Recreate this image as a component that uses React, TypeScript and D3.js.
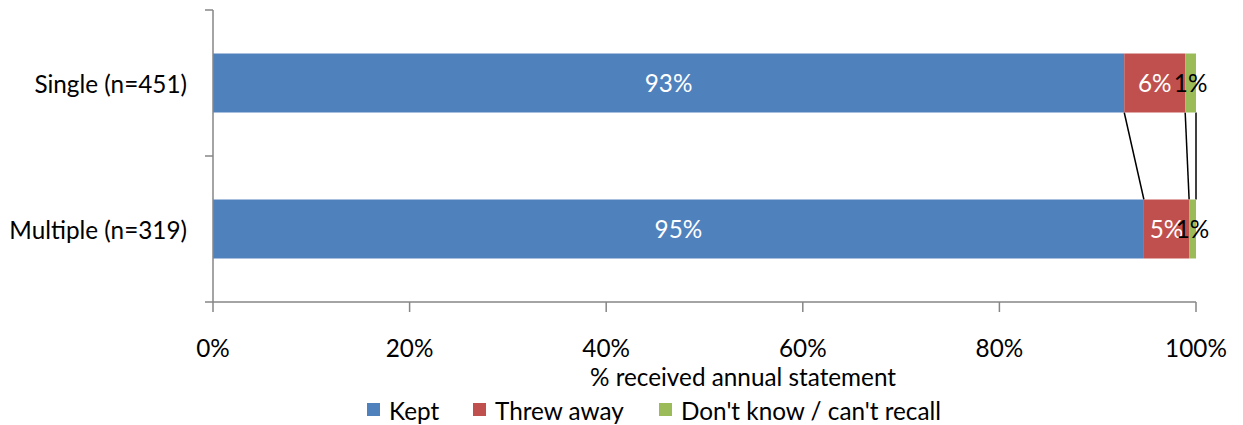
import React, { useEffect, useRef } from 'react';
import * as d3 from 'd3';

const categories = ['Single (n=451)', 'Multiple (n=319)'];
const seriesNames = ['Kept', 'Threw away', "Don't know / can't recall"];
const kept = [92.7, 94.7];
const threwAway = [6.2, 4.6];
const dontKnow = [1.1, 0.7];
const xTicks = [0, 20, 40, 60, 80, 100];
const axisTitle = '% received annual statement';

const colors = ['#4F81BD', '#C0504D', '#9BBB59'];
const labelColors = ['#ffffff', '#ffffff', '#000000'];

export default function App() {
  const svgRef = useRef<SVGSVGElement>(null);

  useEffect(() => {
    if (!svgRef.current) return;
    const width = 1243;
    const height = 425;
    const margin = { top: 10, right: 47, bottom: 123, left: 213 };
    const fs = 24.3;

    const svg = d3.select(svgRef.current);
    svg.selectAll('*').remove();
    svg.attr('viewBox', `0 0 ${width} ${height}`)
      .style('font-family', 'Lato, "Open Sans", sans-serif');

    const x = d3.scaleLinear().domain([0, 100]).range([margin.left, width - margin.right]);
    const y = d3.scaleBand<string>()
      .domain(categories)
      .range([margin.top, height - margin.bottom])
      .paddingInner(0.596)
      .paddingOuter(0.298);

    const rows = categories.map((c, i) => ({ cat: c, vals: [kept[i], threwAway[i], dontKnow[i]] }));
    const stacked = rows.map(r => {
      let acc = 0;
      return r.vals.map((v, k) => {
        const s = { cat: r.cat, k, x0: acc, x1: acc + v, v };
        acc += v;
        return s;
      });
    });

    const axisColor = '#868686';
    const y0 = y.range()[0];
    const y1 = y.range()[1];

    // series lines between bars
    for (let k = 0; k < 3; k++) {
      svg.append('line')
        .attr('x1', x(stacked[0][k].x1)).attr('y1', (y(categories[0]) as number) + y.bandwidth())
        .attr('x2', x(stacked[1][k].x1)).attr('y2', y(categories[1]) as number)
        .attr('stroke', '#000').attr('stroke-width', 1.5);
    }

    // bars
    stacked.forEach(segs => {
      segs.forEach(s => {
        svg.append('rect')
          .attr('x', x(s.x0))
          .attr('y', y(s.cat) as number)
          .attr('width', x(s.x1) - x(s.x0))
          .attr('height', y.bandwidth())
          .attr('fill', colors[s.k]);
      });
    });

    // bar labels
    stacked.forEach(segs => {
      segs.forEach(s => {
        svg.append('text')
          .attr('x', x((s.x0 + s.x1) / 2))
          .attr('y', (y(s.cat) as number) + y.bandwidth() / 2 + 9)
          .attr('text-anchor', 'middle')
          .attr('font-size', fs)
          .attr('fill', labelColors[s.k])
          .text(`${Math.round(s.v)}%`);
      });
    });

    // y axis
    svg.append('line')
      .attr('x1', margin.left).attr('x2', margin.left)
      .attr('y1', y0).attr('y2', y1)
      .attr('stroke', axisColor).attr('stroke-width', 1.5);
    d3.range(categories.length + 1).forEach(i => {
      const ty = y0 + i * ((y1 - y0) / categories.length);
      svg.append('line')
        .attr('x1', margin.left - 8).attr('x2', margin.left)
        .attr('y1', ty).attr('y2', ty)
        .attr('stroke', axisColor).attr('stroke-width', 1.5);
    });
    categories.forEach(c => {
      svg.append('text')
        .attr('x', margin.left - 26)
        .attr('y', (y(c) as number) + y.bandwidth() / 2 + 10)
        .attr('text-anchor', 'end')
        .attr('font-size', fs)
        .attr('fill', '#000')
        .text(c);
    });

    // x axis
    svg.append('line')
      .attr('x1', x(0)).attr('x2', x(100))
      .attr('y1', y1).attr('y2', y1)
      .attr('stroke', axisColor).attr('stroke-width', 1.5);
    xTicks.forEach(t => {
      svg.append('line')
        .attr('x1', x(t)).attr('x2', x(t))
        .attr('y1', y1).attr('y2', y1 + 10)
        .attr('stroke', axisColor).attr('stroke-width', 1.5);
      svg.append('text')
        .attr('x', x(t))
        .attr('y', y1 + 55)
        .attr('text-anchor', 'middle')
        .attr('font-size', fs)
        .attr('fill', '#000')
        .text(`${t}%`);
    });
    svg.append('text')
      .attr('x', 743)
      .attr('y', 386)
      .attr('text-anchor', 'middle')
      .attr('font-size', fs)
      .attr('fill', '#000')
      .text(axisTitle);

    // legend
    const legendX = [367, 473, 659];
    seriesNames.forEach((name, k) => {
      svg.append('rect')
        .attr('x', legendX[k]).attr('y', 403)
        .attr('width', 13).attr('height', 13)
        .attr('fill', colors[k]);
      svg.append('text')
        .attr('x', legendX[k] + 22)
        .attr('y', 420)
        .attr('font-size', fs)
        .attr('fill', '#000')
        .text(name);
    });
  }, []);

  return (
    <div style={{ position: 'fixed', left: 0, top: 0 }}>
      <svg ref={svgRef} width={1243} height={425} style={{ display: 'block', background: '#fff' }} />
    </div>
  );
}
